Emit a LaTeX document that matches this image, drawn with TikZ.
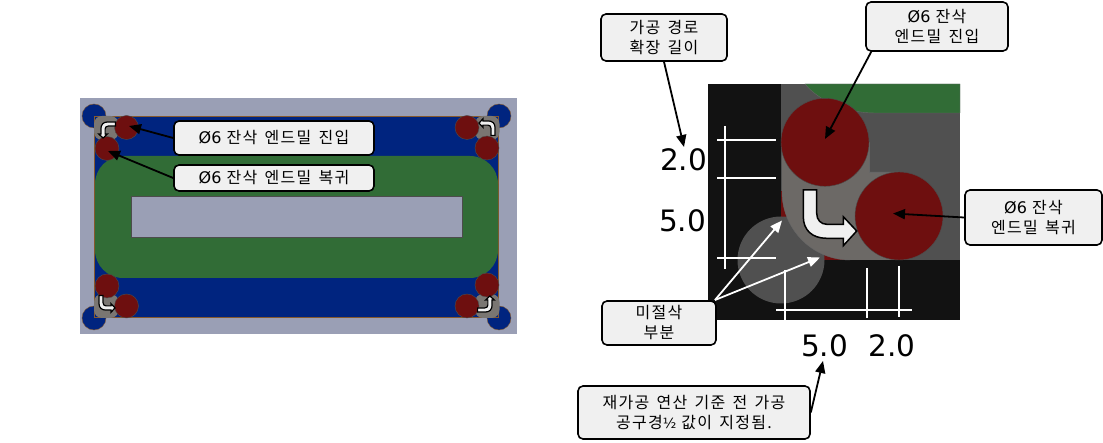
\documentclass[tikz,border=0pt]{standalone}
\usepackage{fontspec}
\setmainfont{DejaVu Sans}
\newfontfamily\cjk[LetterSpace=8,WordSpace=1.5]{Noto Sans CJK KR}
\usetikzlibrary{arrows.meta}
\definecolor{stockgray}{HTML}{9A9FB5}
\definecolor{partblue}{HTML}{00247F}
\definecolor{wallgreen}{HTML}{316C36}
\definecolor{toolred}{HTML}{6E0F0F}
\definecolor{floorblack}{HTML}{121212}
\definecolor{midgray}{HTML}{505050}
\definecolor{cutgray}{HTML}{6C6966}
\definecolor{cornergray}{HTML}{7A7672}
\definecolor{boxwhite}{HTML}{F0F0F0}
\tikzset{
    callout/.style={draw=black, line width=1.6pt, fill=boxwhite, rounded corners=5pt, inner sep=0pt, align=center,
        font=\fontsize{16}{20}\selectfont},
    pointer/.style={line width=1.8pt, -{Triangle[length=12pt,width=10pt]}},
    whitepointer/.style={white, line width=1.8pt, -{Triangle[length=12pt,width=10pt]}},
    dimline/.style={white, line width=2pt},
    dimtext/.style={font=\fontsize{29.5}{30}\selectfont, inner sep=0pt},
    toolcircle/.style={fill=toolred, draw=black!70, line width=0.4pt},
    bentarrow/.pic={
        \draw[fill=boxwhite, pic actions] (-26.7,-28) -- (-13.3,-28) -- (-13.3,-4.7)
            .. controls (-13.3,2) and (-9,6.3) .. (-3.3,6.3) -- (13.3,6.3) -- (13.3,-1.3) -- (26.7,13)
            -- (13.3,27.7) -- (13.3,20.3) -- (-3.3,20.3)
            .. controls (-18,20.3) and (-26.7,12) .. (-26.7,-1.3) -- cycle;
    }
}
\begin{document}
\begin{tikzpicture}[x=1pt,y=-1pt]
    \useasboundingbox (0,0) rectangle (1103,443);

    % whole part
    \fill[stockgray] (80,98) rectangle (517,334);
    \foreach \cx/\cy in {94/116,499/116,94/318,499/318}
        \draw[fill=partblue, draw=brown!70!black, line width=0.4pt] (\cx,\cy) circle (12);
    \draw[fill=partblue, draw=brown!70!black, line width=0.6pt] (94.5,116.5) rectangle (498.5,317.5);
    \foreach \cx/\cy in {94/116,475/116,94/294,475/294}
        \fill[cornergray, rounded corners=8pt] (\cx,\cy) rectangle ++(24.5,24);
    \fill[wallgreen, rounded corners=28pt] (95,156) rectangle (498,278);
    \draw[fill=stockgray, draw=black!70, line width=0.5pt] (131,196.5) rectangle (462,237);
    \foreach \cx/\cy in {126.5/127.5,107/148.5,467/127.5,487/148,107/286,126.5/306,467/306,487/285}
        \draw[toolcircle] (\cx,\cy) circle (12);
    \path (107,304) pic[scale=.3, line width=1.2pt] {bentarrow};
    \path (107,130) pic[scale=.3, line width=1.2pt, rotate=-90] {bentarrow};
    \path (487,127) pic[scale=.3, line width=1.2pt, rotate=180] {bentarrow};
    \path (486,304) pic[scale=.3, line width=1.2pt, rotate=90] {bentarrow};

    \node[callout, minimum width=200pt, minimum height=34pt] (entrysmall) at (274,138)
        {Ø6 {\cjk 잔삭 엔드밀 진입}};
    \node[callout, minimum width=200pt, minimum height=26pt] (exitsmall) at (274,178)
        {Ø6 {\cjk 잔삭 엔드밀 복귀}};
    \coordinate (entrysmalltip) at (129,126);
    \coordinate (exitsmalltip) at (108,151);
    \draw[pointer] (entrysmall.west) -- (entrysmalltip);
    \draw[pointer] (exitsmall.west) -- (exitsmalltip);

    % corner detail
    \fill[floorblack] (708,84) rectangle (960,320);
    \fill[midgray] (781,84) rectangle (960,260);
    \draw[fill=wallgreen, draw=black!60, line width=0.4pt] (805,84) .. controls (818,100) and (845,113) .. (875,113)
        -- (960,113) -- (960,84) -- cycle;
    \fill[toolred] (781,191) rectangle (850,260);
    \fill[midgray] (781,260) circle (43.5);
    \draw[fill=cutgray, draw=none] (782,142) -- (869,142) -- (869,172) -- (899,172) -- (899,260) -- (850,260)
        .. controls (812.4,260) and (782,229.3) .. (782,191.7) -- cycle;
    \draw[black!60, line width=0.4pt] (850,260) .. controls (812.4,260) and (782,229.3) .. (782,191.7);
    \draw[black!60, line width=0.4pt] (869,142) -- (869,172) -- (899,172);
    \draw[toolcircle] (825,142.3) circle (44);
    \draw[toolcircle] (899,216) circle (44);
    \path (830,218) pic[line width=1.5pt] {bentarrow};

    % dimension lines
    \draw[dimline] (725,126) -- (725,269);
    \draw[dimline] (717,140) -- (776,140);
    \draw[dimline] (717,178) -- (776,178);
    \draw[dimline] (717,258) -- (776,258);
    \draw[dimline] (776,310.5) -- (912,310.5);
    \draw[dimline] (784.5,270) -- (784.5,320);
    \draw[dimline] (866.5,268) -- (866.5,318);
    \draw[dimline] (899,266) -- (899,317);
    \node[dimtext] (dimtwoleft) at (683.5,160) {2.0};
    \node[dimtext] (dimfiveleft) at (682.5,221) {5.0};
    \node[dimtext] (dimfivebottom) at (824.5,346) {5.0};
    \node[dimtext] (dimtwobottom) at (892,346) {2.0};

    % callouts
    \coordinate (uncutroot) at (715,300);
    \coordinate (uncuttipa) at (782,220.5);
    \coordinate (uncuttipb) at (820,257.5);
    \draw[whitepointer] (uncutroot) -- (uncuttipa);
    \draw[whitepointer] (uncutroot) -- (uncuttipb);
    \node[callout, minimum width=126pt, minimum height=47pt] (pathlength) at (664,37.5)
        {{\cjk 가공 경로}\\{\cjk 확장 길이}};
    \node[callout, minimum width=142pt, minimum height=49pt] (entrybig) at (937,26.5)
        {Ø6 {\cjk 잔삭}\\{\cjk 엔드밀 진입}};
    \node[callout, minimum width=137pt, minimum height=55pt] (exitbig) at (1033.5,217.5)
        {Ø6 {\cjk 잔삭}\\{\cjk 엔드밀 복귀}};
    \node[callout, minimum width=114pt, minimum height=44pt] (uncut) at (659,323)
        {{\cjk 미절삭}\\{\cjk 부분}};
    \node[callout, minimum width=232pt, minimum height=53pt] (note) at (694,412.5)
        {{\cjk 재가공 연산 기준 전 가공}\\{\cjk 공구경}{\fontsize{14}{20}\selectfont ½} {\cjk 값이 지정됨.}};

    \coordinate (pathtip) at (684,147);
    \coordinate (entrytip) at (825,139);
    \coordinate (exittip) at (893,213.5);
    \coordinate (notetip) at (823,361);
    \draw[pointer] (pathlength.south) -- (pathtip);
    \draw[pointer] ([xshift=6pt]entrybig.south west) -- (entrytip);
    \draw[pointer] (exitbig.west) -- (exittip);
    \draw[pointer] (note.east) -- (notetip);
\end{tikzpicture}
\end{document}
